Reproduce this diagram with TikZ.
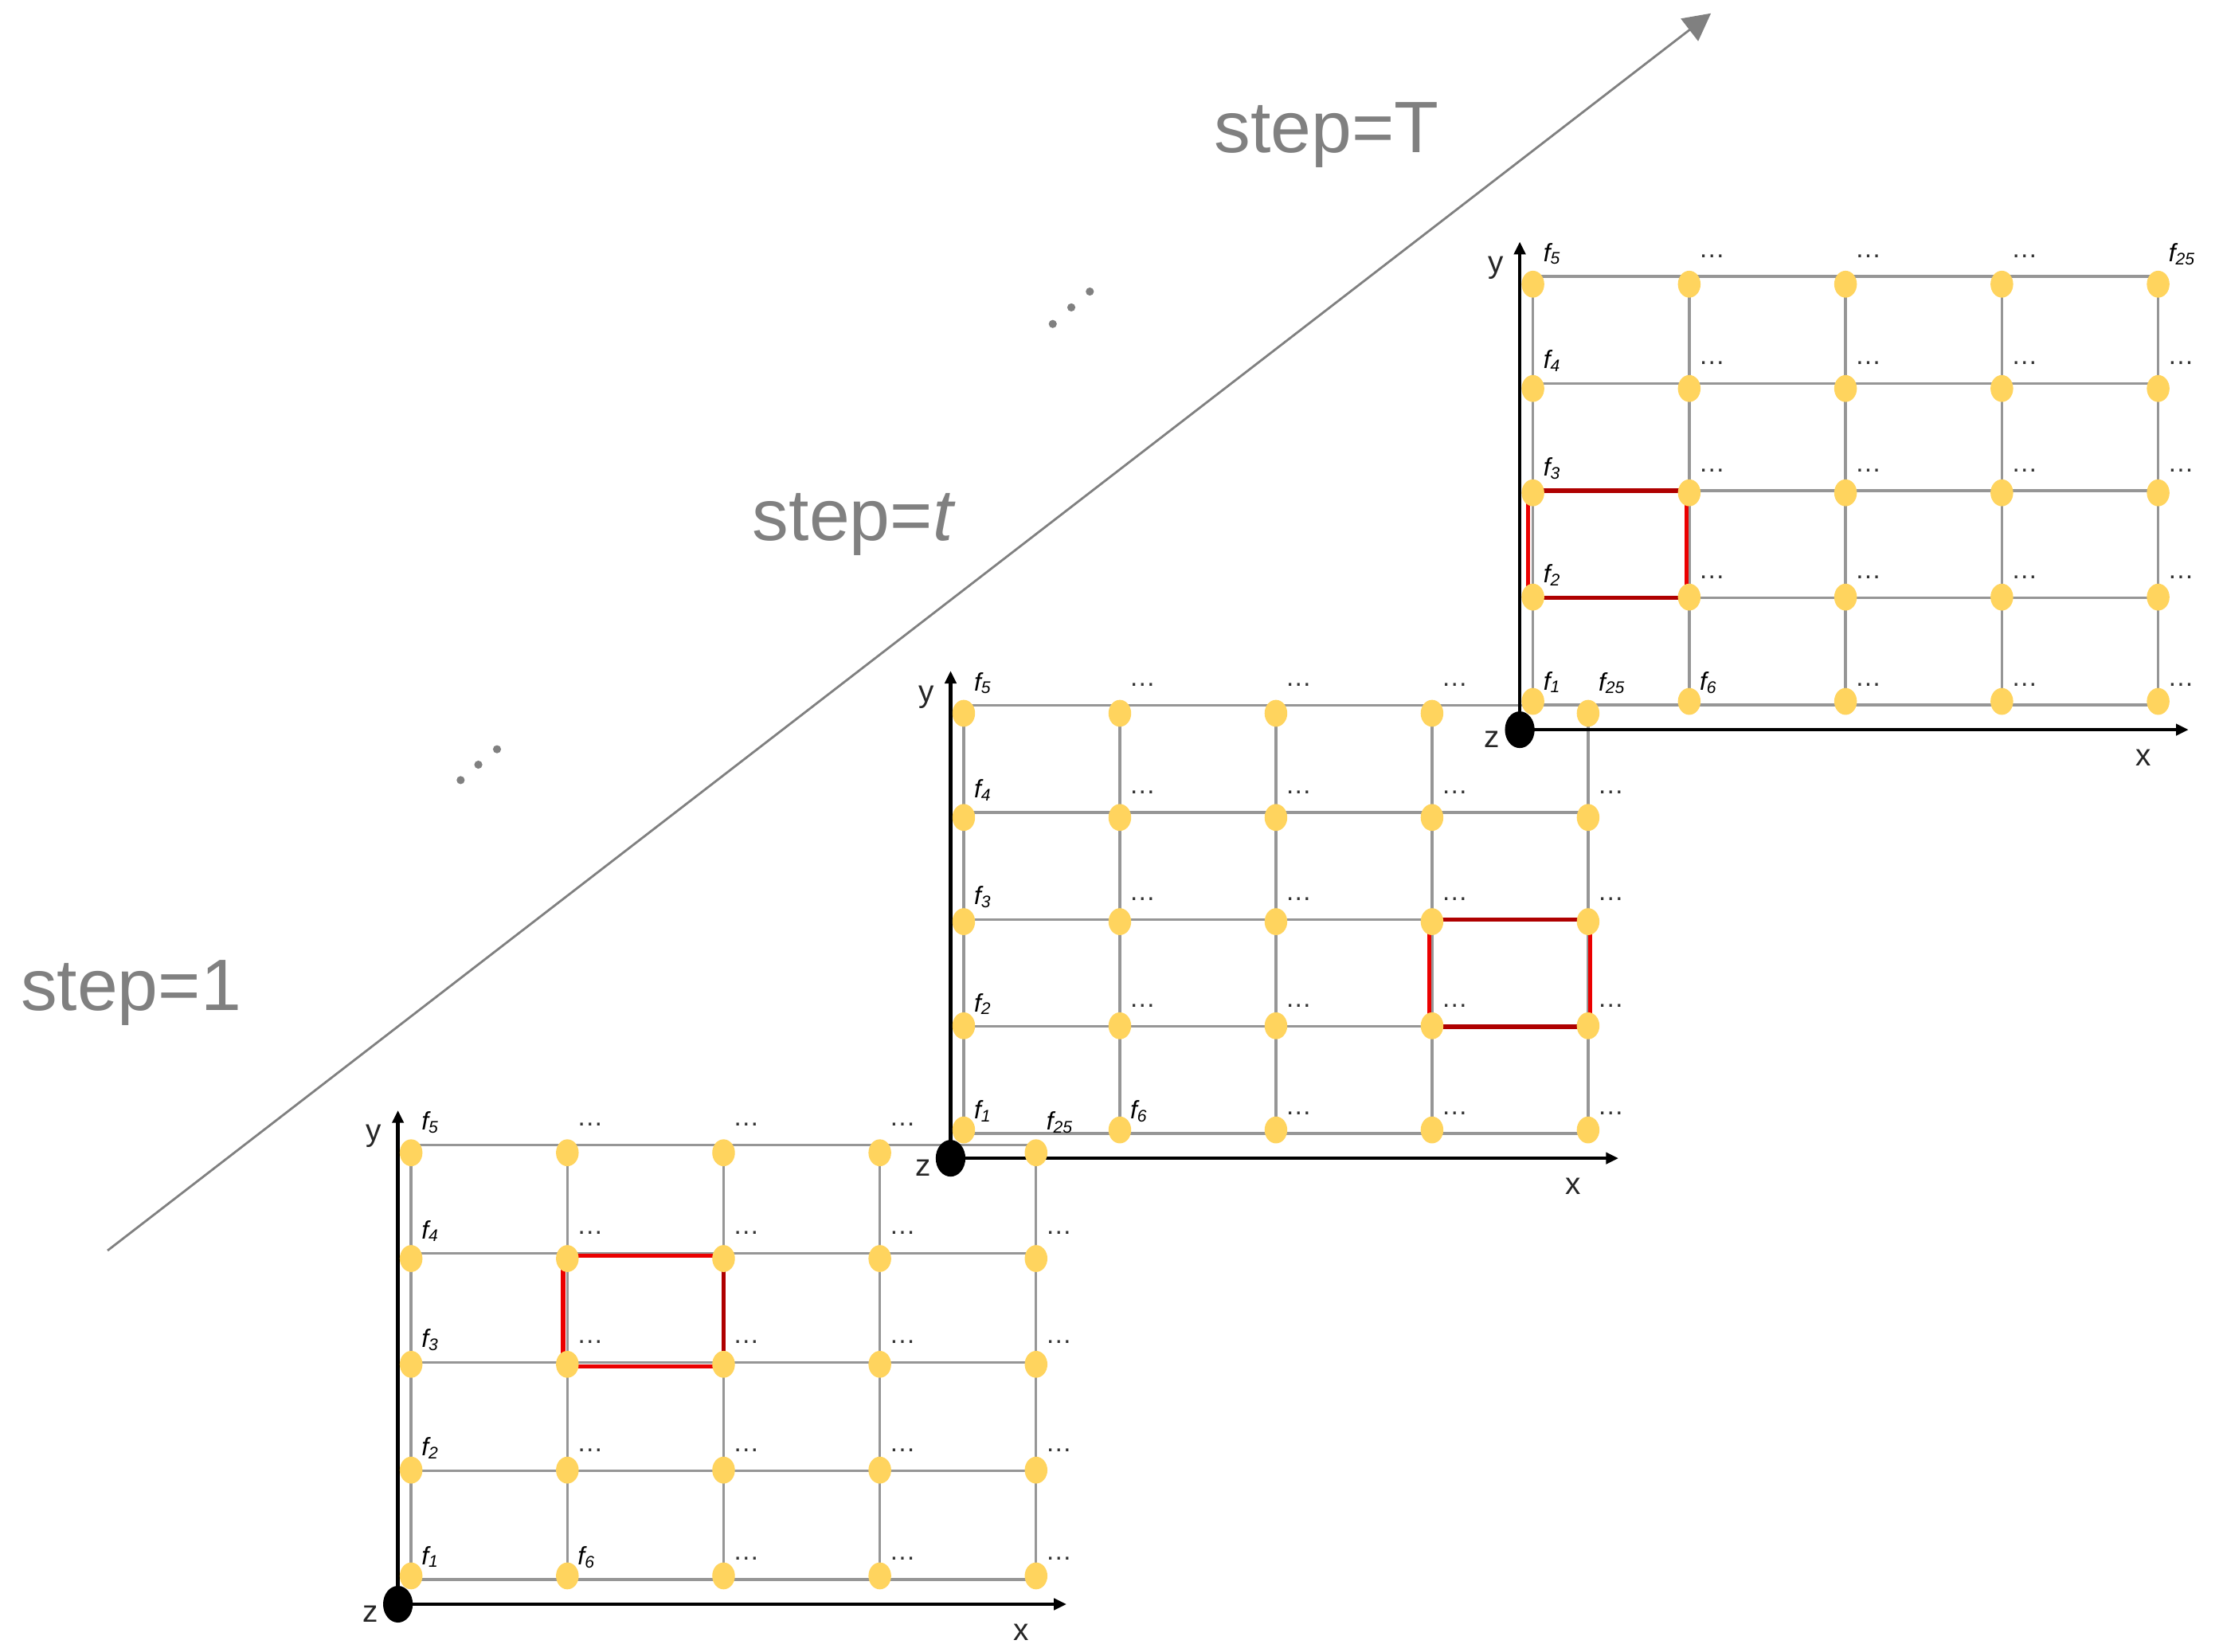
\documentclass[tikz,border=0pt]{standalone}
\usepackage{fontspec}
\setmainfont{Liberation Sans}
\usetikzlibrary{shapes.geometric,arrows.meta,calc}
\definecolor{dotyellow}{RGB}{255,212,94}
\definecolor{gridgray}{RGB}{150,150,150}
\definecolor{stepgray}{RGB}{128,128,128}
\definecolor{redA}{RGB}{235,0,0}
\definecolor{redB}{RGB}{175,0,0}
\tikzset{
  gridline/.style={draw=gridgray, line width=0.95pt},
  axisline/.style={draw=black, line width=1.3pt, -{Triangle[length=4.5pt,width=4pt]}},
  ydot/.style={shape=ellipse, fill=dotyellow, inner sep=0pt, minimum width=8.1pt, minimum height=9.6pt},
  odot/.style={shape=ellipse, fill=black, inner sep=0pt, minimum width=10.6pt, minimum height=13.1pt},
  flabel/.style={anchor=base west, inner sep=0pt, font=\fontsize{9}{10}\selectfont\itshape},
  elabel/.style={anchor=base, inner sep=0pt, text=black!80, font=\fontsize{9.5}{10}\selectfont},
  axlabel/.style={inner sep=0pt, text=black!85, font=\fontsize{11}{12}\selectfont},
  steplabel/.style={anchor=base, inner sep=0pt, text=stepgray, font=\fontsize{26}{30}\selectfont},
  redline/.style={line width=1.6pt, line cap=rect},
  pdot/.style={circle, fill=stepgray, inner sep=0pt, minimum size=2.9pt},
  diagarrow/.style={draw=stepgray, line width=0.8pt, -{Triangle[length=9.7pt,width=10pt]}},
}
% id, X0, DX, Y0, DY  (units: px of the 1568-wide reference, y downward)
\newcommand\defgrid[5]{%
  \foreach \cc in {1,...,5}{\foreach \rr in {1,...,5}{%
    \coordinate (#1-L\cc-\rr) at ({#2+(\cc-1)*#3},{#4+(\rr-1)*#5});
    \coordinate (#1-D\cc-\rr) at ({#2+(\cc-1)*#3},{#4+(\rr-1)*#5+5.5-2*(\rr-1)});
  }}%
  \coordinate (#1-O) at ({#2-9.3},{#4+4*#5+17.5});
  \coordinate (#1-YT) at ({#2-9.3},{#4-24.5});
  \coordinate (#1-XT) at ({#2+4*#3+21.5},{#4+4*#5+17.5});
}
\begin{document}
\begin{tikzpicture}[x={(0.017768cm,0)}, y={(0,-0.017768cm)}]
\useasboundingbox (0,0) rectangle (1568,1167);

% ---- coordinates of the three grids
\defgrid{g1}{290.5}{110.4}{809}{76.75}
\defgrid{g2}{681}{110.3}{498.5}{75.6}
\defgrid{g3}{1083.2}{110.45}{195.3}{75.7}

% ---- diagonal time arrow
\coordinate (arS) at (76,883.6);
\coordinate (arE) at (1209,9.4);
\draw[diagarrow] (arS) -- (arE);

% ---- gray grid lines
\foreach \g in {g1,g2,g3}{
  \foreach \rr in {1,...,5}{\draw[gridline] (\g-L1-\rr) -- (\g-L5-\rr);}
  \foreach \cc in {1,...,5}{\draw[gridline] (\g-L\cc-1) -- (\g-L\cc-5);}
}

% ---- red cells
\coordinate (g1-rTL) at ($(g1-L2-2)+(-3,1.5)$);
\coordinate (g1-rTR) at ($(g1-L3-2)+(0,1.5)$);
\coordinate (g1-rBL) at ($(g1-L2-3)+(-3,3)$);
\coordinate (g1-rBR) at ($(g1-L3-3)+(0,3)$);
\draw[redline, redA] (g1-rTL) -- (g1-rTR);
\draw[redline, redB] (g1-rTR) -- (g1-rBR);
\draw[redline, redA] (g1-rBL) -- (g1-rBR);
\draw[redline, redA] (g1-rTL) -- (g1-rBL);

\coordinate (g2-rTL) at ($(g2-L4-3)+(-2,0)$);
\coordinate (g2-rTR) at ($(g2-L5-3)+(1.5,0)$);
\coordinate (g2-rBL) at ($(g2-L4-4)+(-2,0)$);
\coordinate (g2-rBR) at ($(g2-L5-4)+(1.5,0)$);
\draw[redline, redB] (g2-rTL) -- (g2-rTR);
\draw[redline, redA] (g2-rTR) -- (g2-rBR);
\draw[redline, redB] (g2-rBL) -- (g2-rBR);
\draw[redline, redA] (g2-rTL) -- (g2-rBL);

\coordinate (g3-rTL) at ($(g3-L1-3)+(-3.5,0)$);
\coordinate (g3-rTR) at ($(g3-L2-3)+(-2,0)$);
\coordinate (g3-rBL) at ($(g3-L1-4)+(-3.5,0)$);
\coordinate (g3-rBR) at ($(g3-L2-4)+(-2,0)$);
\draw[redline, redB] (g3-rTL) -- (g3-rTR);
\draw[redline, redA] (g3-rTR) -- (g3-rBR);
\draw[redline, redB] (g3-rBL) -- (g3-rBR);
\draw[redline, redA] (g3-rTL) -- (g3-rBL);

% ---- axes
\foreach \g in {g1,g2,g3}{
  \draw[axisline] (\g-O) -- (\g-YT);
  \draw[axisline] (\g-O) -- (\g-XT);
}

% ---- yellow dots
\foreach \g in {g1,g2,g3}{
  \foreach \cc in {1,...,5}{\foreach \rr in {1,...,5}{
    \node[ydot] (\g-d\cc-\rr) at (\g-D\cc-\rr) {};
  }}
}

% ---- origins and axis labels
\foreach \g in {g1,g2,g3}{
  \node[odot] (\g-o) at (\g-O) {};
  \node[axlabel] (\g-ylab) at ($(\g-YT)+(-17,18.5)$) {y};
  \node[axlabel] (\g-zlab) at ($(\g-O)+(-19.5,7)$) {z};
  \node[axlabel] (\g-xlab) at ($(\g-XT)+(-32,20)$) {x};
}

% ---- feature labels
\foreach \g in {g1,g2,g3}{
  \foreach \rr in {1,...,5}{
    \pgfmathtruncatemacro\kk{6-\rr}
    \node[flabel] (\g-f\kk) at ($(\g-L1-\rr)+(7,-10.5)$) {f\textsubscript{\kk}};
  }
  \node[flabel] (\g-f6) at ($(\g-L2-5)+(7,-10.5)$) {f\textsubscript{6}};
  \node[flabel] (\g-f25) at ($(\g-L5-1)+(7,-10.5)$) {f\textsubscript{25}};
  \foreach \cc in {2,...,5}{\foreach \rr in {1,...,5}{
    \pgfmathtruncatemacro\crcode{\cc*10+\rr}
    \ifnum\crcode=25\relax\else\ifnum\crcode=51\relax\else
      \node[elabel] (\g-e\cc-\rr) at ($(\g-L\cc-\rr)+(16,-13.5)$) {…};
    \fi\fi
  }}
}

% ---- step labels
\node[steplabel] (sT) at (937.5,107.9) {step=T};
\node[steplabel] (st) at (603.5,381.8) {step=\textit{t}};
\node[steplabel] (s1) at (92.6,713.8) {step=1};

% ---- ellipsis marks
\node[pdot] (ea1) at (743.9,228.9) {};
\node[pdot] (ea2) at (757,217.2) {};
\node[pdot] (ea3) at (770.1,206) {};
\node[pdot] (eb1) at (325.5,551.2) {};
\node[pdot] (eb2) at (338,540.3) {};
\node[pdot] (eb3) at (351.2,529.4) {};
\end{tikzpicture}
\end{document}
